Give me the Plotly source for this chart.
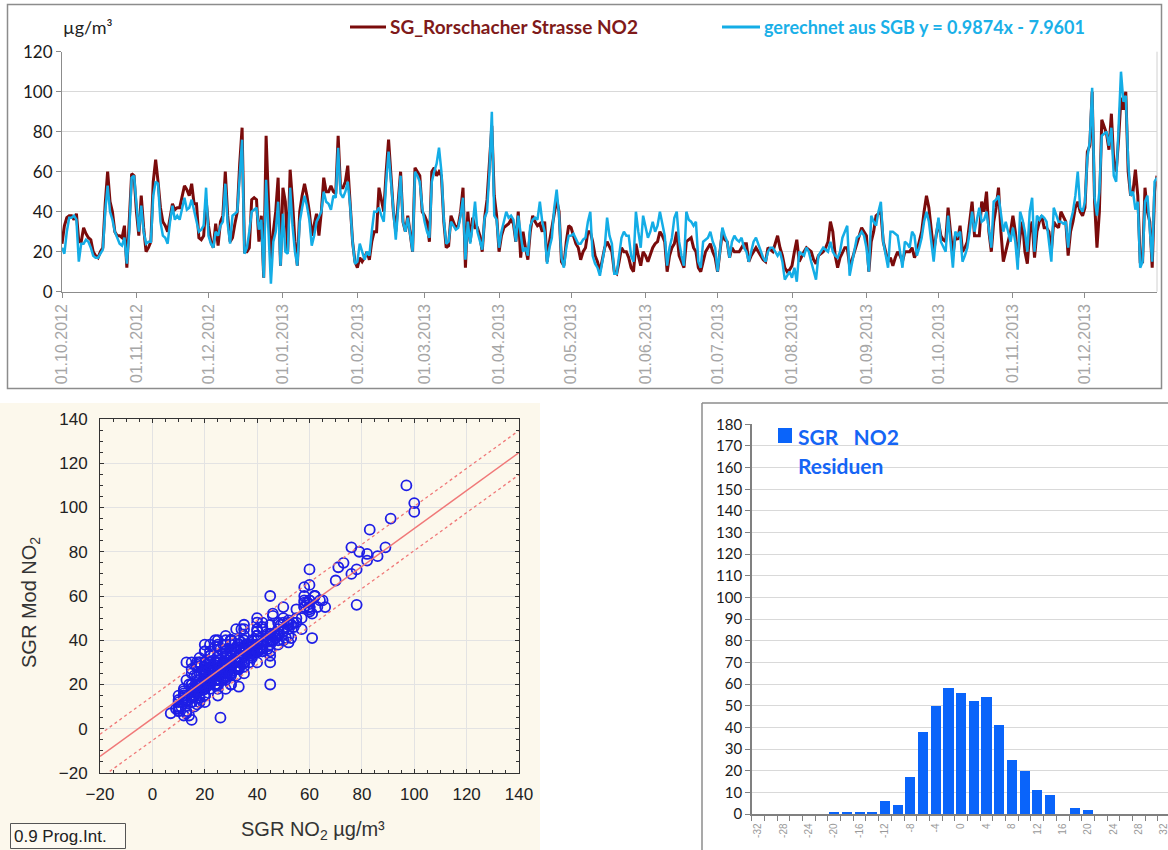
import plotly.graph_objects as go
import pandas as pd

# ---------------- data ----------------
start_date = "2012-10-01"
end_date = "2013-12-31"

rorschacher_no2 = [
    24, 33, 37, 38, 38, 36, 39, 25, 25, 32,
    29, 27, 26, 20, 18, 17, 20, 22, 44, 60,
    45, 40, 30, 28, 28, 27, 33, 12, 35, 59,
    58, 40, 28, 48, 32, 20, 22, 25, 55, 66,
    55, 42, 35, 33, 30, 38, 44, 41, 42, 42,
    47, 53, 51, 48, 54, 44, 44, 27, 26, 28,
    46, 33, 25, 22, 34, 23, 35, 38, 60, 38,
    25, 27, 34, 40, 64, 82, 20, 20, 22, 46,
    47, 46, 25, 38, 7, 78, 45, 15, 30, 40,
    57, 13, 52, 45, 20, 61, 45, 25, 13, 40,
    48, 54, 48, 40, 28, 33, 39, 28, 40, 57,
    50, 50, 53, 50, 49, 78, 52, 52, 55, 63,
    45, 25, 15, 12, 17, 15, 17, 20, 16, 25,
    30, 30, 52, 45, 40, 60, 76, 58, 40, 30,
    45, 60, 35, 30, 38, 28, 20, 62, 60, 58,
    40, 38, 35, 25, 60, 62, 58, 60, 58, 35,
    22, 23, 38, 35, 32, 33, 40, 52, 12, 40,
    25, 37, 32, 32, 28, 20, 37, 46, 62, 83,
    48, 38, 20, 28, 32, 33, 34, 36, 34, 25,
    40, 17, 30, 22, 16, 30, 38, 35, 33, 34,
    30, 35, 15, 25, 32, 40, 46, 40, 15, 13,
    25, 33, 32, 28, 24, 22, 16, 20, 22, 30,
    30, 25, 18, 15, 10, 16, 22, 25, 22, 20,
    10, 9, 15, 22, 20, 20, 17, 12, 10, 24,
    18, 13, 20, 18, 15, 18, 22, 24, 25, 30,
    28, 25, 10, 18, 22, 24, 30, 18, 15, 12,
    25, 26, 27, 22, 20, 12, 10, 15, 20, 22,
    24, 20, 17, 10, 20, 30, 26, 25, 17, 22,
    20, 20, 20, 22, 24, 24, 15, 18, 20, 22,
    20, 18, 16, 15, 22, 21, 20, 24, 28, 22,
    18, 12, 10, 11, 13, 20, 26, 15, 18, 20,
    22, 21, 20, 16, 14, 18, 19, 20, 22, 25,
    35, 30, 18, 12, 17, 20, 22, 22, 13, 16,
    20, 25, 28, 32, 30, 28, 10, 25, 30, 38,
    39, 40, 25, 20, 15, 17, 13, 17, 20, 18,
    15, 20, 20, 20, 22, 17, 20, 25, 30, 40,
    48, 42, 30, 20, 28, 35, 28, 26, 25, 42,
    30, 18, 28, 26, 33, 20, 22, 25, 35, 45,
    28, 28, 28, 45, 40, 50, 30, 20, 35, 42,
    52, 30, 15, 20, 25, 30, 38, 30, 17, 28,
    35, 20, 14, 30, 35, 17, 30, 35, 38, 32,
    32, 30, 20, 35, 33, 32, 40, 37, 35, 18,
    30, 35, 42, 45, 40, 38, 42, 70, 73, 100,
    45, 22, 40, 86, 82, 79, 71, 89, 65, 60,
    76, 97, 91, 100, 60, 48, 50, 61, 48, 15,
    15, 52, 40, 35, 12, 50, 58,
]

gerechnet_sgb = [
    22, 19, 30, 37, 37, 38, 36, 15, 24, 24,
    26, 25, 22, 18, 17, 17, 19, 21, 40, 53,
    40, 36, 30, 27, 24, 23, 27, 14, 30, 57,
    58, 44, 30, 43, 30, 24, 25, 25, 48, 55,
    54, 35, 28, 27, 24, 35, 43, 36, 38, 36,
    42, 47, 41, 42, 46, 41, 36, 30, 31, 33,
    52, 28, 24, 22, 30, 28, 33, 35, 54, 34,
    24, 38, 39, 40, 58, 76, 19, 22, 30, 40,
    41, 42, 31, 36, 7, 56, 30, 4, 25, 30,
    45, 13, 39, 20, 19, 52, 33, 20, 13, 35,
    42, 48, 43, 36, 23, 28, 35, 38, 40, 50,
    45, 44, 41, 48, 47, 72, 49, 47, 50, 55,
    43, 25, 14, 15, 24, 20, 16, 20, 18, 30,
    40, 40, 42, 38, 35, 55, 70, 55, 38, 26,
    42, 58, 35, 30, 37, 28, 20, 60, 58, 55,
    42, 35, 30, 27, 55, 60, 64, 72, 60, 36,
    24, 25, 35, 33, 31, 32, 38, 47, 16, 35,
    24, 33, 45, 30, 26, 21, 37, 40, 60, 90,
    38, 36, 22, 30, 35, 40, 37, 38, 36, 25,
    38, 28, 20, 22, 18, 33, 36, 37, 36, 45,
    35, 30, 14, 22, 27, 42, 51, 38, 17, 12,
    22, 28, 28, 29, 26, 24, 24, 26, 27, 35,
    40, 18, 14, 12, 8, 15, 22, 37, 28, 24,
    9, 9, 18, 27, 30, 28, 28, 18, 15, 40,
    30, 22, 38, 32, 27, 30, 35, 30, 33, 40,
    34, 28, 13, 22, 27, 37, 40, 25, 18, 13,
    40, 36, 35, 33, 35, 15, 12, 25, 26, 27,
    30, 25, 22, 10, 20, 32, 28, 25, 17, 25,
    28, 26, 25, 27, 22, 20, 15, 20, 25, 27,
    24, 20, 17, 15, 20, 22, 22, 20, 18, 20,
    15, 6, 8, 10, 7, 12, 5, 20, 19, 18,
    22, 20, 15, 10, 6, 18, 20, 22, 21, 20,
    25, 20, 18, 17, 20, 27, 30, 33, 8, 15,
    22, 27, 28, 30, 28, 22, 10, 38, 35, 33,
    40, 45, 25, 18, 12, 30, 30, 29, 28, 20,
    12, 25, 24, 22, 30, 28, 18, 22, 27, 35,
    40, 35, 25, 15, 28, 37, 25, 22, 20, 38,
    25, 12, 30, 28, 30, 15, 18, 22, 30, 40,
    30, 36, 42, 35, 36, 40, 30, 22, 45, 46,
    48, 38, 30, 35, 30, 25, 32, 25, 11, 40,
    36, 30, 20, 40, 47, 20, 38, 36, 38, 37,
    35, 25, 15, 42, 38, 35, 35, 34, 35, 22,
    35, 40, 48, 60, 42, 40, 45, 67, 75, 102,
    47, 38, 50, 78, 79, 80, 73, 82, 58, 55,
    82, 110, 95, 98, 65, 48, 50, 41, 45, 12,
    15, 45, 48, 30, 15, 55, 57,
]

month_ticks = ["2012-10-01", "2012-11-01", "2012-12-01", "2013-01-01", "2013-02-01",
               "2013-03-01", "2013-04-01", "2013-05-01", "2013-06-01", "2013-07-01",
               "2013-08-01", "2013-09-01", "2013-10-01", "2013-11-01", "2013-12-01"]
month_labels = ["01.10.2012", "01.11.2012", "01.12.2012", "01.01.2013", "01.02.2013",
                "01.03.2013", "01.04.2013", "01.05.2013", "01.06.2013", "01.07.2013",
                "01.08.2013", "01.09.2013", "01.10.2013", "01.11.2013", "01.12.2013"]

fit_intercept = 4.7
fit_slope = 0.858
pred_interval = 10.0
fit_x = [-20, 140]

# residual histogram
resid_bins = [-32, -30, -28, -26, -24, -22, -20, -18, -16, -14, -12, -10, -8, -6, -4, -2,
              0, 2, 4, 6, 8, 10, 12, 14, 16, 18, 20, 22, 24, 26, 28, 30, 32]
resid_counts = [0, 0, 0, 0, 0, 0, 1, 1, 1, 1, 6, 4, 17, 38, 50, 58,
                56, 52, 54, 41, 25, 20, 11, 9, 0, 3, 2, 0, 0, 0, 0, 0, 0]
resid_tick_vals = [-32, -28, -24, -20, -16, -12, -8, -4, 0, 4, 8, 12, 16, 20, 24, 28, 32]
resid_tick_text = ["-32", "-28", "-24", "-20", "-16", "-12", "-8", "-4", "0",
                   "4", "8", "12", "16", "20", "24", "28", "32"]

# ---------------- geometry helpers ----------------
W, H = 1168, 850
def px(x):
    return x / W
def py(y):
    return 1 - y / H

dates = pd.date_range(start_date, end_date, freq="D")

RED = "#7A0B0B"
BLUE = "#14ADE6"
HBLUE = "#0A64FA"

fig = go.Figure()

fig.add_trace(go.Scatter(x=dates, y=rorschacher_no2, mode="lines",
                         line=dict(color=RED, width=3), xaxis="x", yaxis="y",
                         showlegend=False))
fig.add_trace(go.Scatter(x=dates, y=gerechnet_sgb, mode="lines",
                         line=dict(color=BLUE, width=2.5), xaxis="x", yaxis="y",
                         showlegend=False))

fit_y = [fit_intercept + fit_slope * v for v in fit_x]
fit_up = [v + pred_interval for v in fit_y]
fit_lo = [v - pred_interval for v in fit_y]
fig.add_trace(go.Scatter(x=rorschacher_no2, y=gerechnet_sgb, mode="markers",
                         marker=dict(symbol="circle-open", size=10, color="#1E1EE6",
                                     line=dict(width=1.8, color="#1E1EE6")),
                         xaxis="x2", yaxis="y2", showlegend=False, cliponaxis=True))
fig.add_trace(go.Scatter(x=fit_x, y=fit_y, mode="lines",
                         line=dict(color="#F07878", width=1.5),
                         xaxis="x2", yaxis="y2", showlegend=False))
fig.add_trace(go.Scatter(x=fit_x, y=fit_up, mode="lines",
                         line=dict(color="#F07878", width=1.3, dash="dot"),
                         xaxis="x2", yaxis="y2", showlegend=False))
fig.add_trace(go.Scatter(x=fit_x, y=fit_lo, mode="lines",
                         line=dict(color="#F07878", width=1.3, dash="dot"),
                         xaxis="x2", yaxis="y2", showlegend=False))

fig.add_trace(go.Bar(x=resid_bins, y=resid_counts, width=1.6,
                     marker=dict(color=HBLUE, line=dict(width=0)),
                     xaxis="x3", yaxis="y3", showlegend=False))

shapes = []
shapes.append(dict(type="rect", xref="paper", yref="paper",
                   x0=px(7.5), x1=px(1161.5), y0=py(388.5), y1=py(4.5),
                   line=dict(color="#8C8C8C", width=1.5), layer="below"))
shapes.append(dict(type="line", xref="paper", yref="paper",
                   x0=px(1157), x1=px(1157), y0=py(291.7), y1=py(51.7),
                   line=dict(color="#D0D0D0", width=1)))
shapes.append(dict(type="line", xref="paper", yref="paper",
                   x0=px(350), x1=px(386), y0=py(27), y1=py(27),
                   line=dict(color=RED, width=3)))
shapes.append(dict(type="line", xref="paper", yref="paper",
                   x0=px(722), x1=px(760), y0=py(27), y1=py(27),
                   line=dict(color=BLUE, width=3)))
shapes.append(dict(type="rect", xref="paper", yref="paper",
                   x0=0, x1=px(540), y0=0, y1=py(403),
                   fillcolor="#FCF8EC", line=dict(width=0), layer="below"))
shapes.append(dict(type="rect", xref="paper", yref="paper",
                   x0=px(10.5), x1=px(125.5), y0=py(848.5), y1=py(823.5),
                   fillcolor="#FDFAF2", line=dict(color="#555555", width=1), layer="below"))
shapes.append(dict(type="line", xref="paper", yref="paper",
                   x0=px(702), x1=px(702), y0=0, y1=py(403),
                   line=dict(color="#8C8C8C", width=1.5)))
shapes.append(dict(type="line", xref="paper", yref="paper",
                   x0=px(702), x1=1, y0=py(403), y1=py(403),
                   line=dict(color="#8C8C8C", width=1.5)))
shapes.append(dict(type="rect", xref="paper", yref="paper",
                   x0=px(778), x1=px(792), y0=py(443), y1=py(428),
                   fillcolor=HBLUE, line=dict(width=0)))

annotations = [
    dict(text="µg/m³", x=px(61), y=py(27), xref="paper", yref="paper",
         xanchor="left", yanchor="middle", showarrow=False,
         font=dict(family="Lato", size=18, color="#222222")),
    dict(text="SG_Rorschacher Strasse NO2", x=px(388), y=py(27), xref="paper", yref="paper",
         xanchor="left", yanchor="middle", showarrow=False,
         font=dict(family="Lato", size=19, color="#7F1A1A", weight="bold")),
    dict(text="gerechnet aus SGB y = 0.9874x - 7.9601", x=px(762), y=py(27),
         xref="paper", yref="paper", xanchor="left", yanchor="middle", showarrow=False,
         font=dict(family="Lato", size=18, color="#1AB0E8", weight="bold")),
    dict(text="SGR NO<sub>2</sub> µg/m³", x=px(313), y=py(830), xref="paper", yref="paper",
         xanchor="center", yanchor="middle", showarrow=False,
         font=dict(family="Liberation Sans", size=20, color="#333333")),
    dict(text="SGR Mod NO<sub>2</sub>", x=px(30), y=py(603), xref="paper", yref="paper",
         xanchor="center", yanchor="middle", showarrow=False, textangle=-90,
         font=dict(family="Liberation Sans", size=20, color="#333333")),
    dict(text="0.9 Prog.Int.", x=px(13), y=py(836), xref="paper", yref="paper",
         xanchor="left", yanchor="middle", showarrow=False, borderpad=0,
         font=dict(family="Liberation Sans", size=17, color="#222222")),
    dict(text="SGR\u00a0\u00a0\u00a0NO2", x=px(796), y=py(436), xref="paper", yref="paper",
         xanchor="left", yanchor="middle", showarrow=False,
         font=dict(family="Lato", size=21, color="#1565F5", weight="bold")),
    dict(text="Residuen", x=px(796), y=py(465), xref="paper", yref="paper",
         xanchor="left", yanchor="middle", showarrow=False,
         font=dict(family="Lato", size=21, color="#1565F5", weight="bold")),
]

fig.update_layout(
    width=W, height=H,
    margin=dict(l=0, r=0, t=0, b=0, autoexpand=False),
    paper_bgcolor="white", plot_bgcolor="white",
    shapes=shapes, annotations=annotations,
    bargap=0, dragmode=False, hovermode=False,
    xaxis=dict(domain=[px(62), px(1157)], anchor="y", type="date", automargin=False,
               range=[start_date, end_date], fixedrange=True,
               tickmode="array", tickvals=month_ticks, ticktext=month_labels,
               tickangle=-90, tickfont=dict(family="Liberation Sans", size=16, color="#A6A6A6"),
               ticks="outside", ticklen=5, tickcolor="#8C8C8C",
               showline=True, linecolor="#8C8C8C", linewidth=1, showgrid=False,
               zeroline=False),
    yaxis=dict(domain=[py(291.7), py(51.7)], anchor="x", range=[0, 120], fixedrange=True,
               automargin=False, tickmode="linear", tick0=0, dtick=20,
               tickfont=dict(family="Lato", size=17, color="#1A1A1A"),
               ticks="outside", ticklen=5, tickcolor="#8C8C8C",
               showline=True, linecolor="#8C8C8C", linewidth=1,
               showgrid=True, gridcolor="#D9D9D9", gridwidth=1, zeroline=False),
    xaxis2=dict(domain=[px(100), px(519)], anchor="y2", range=[-20, 140], fixedrange=True,
                automargin=False, tickmode="linear", tick0=-20, dtick=20,
                tickfont=dict(family="Liberation Sans", size=17, color="#222222"),
                ticks="inside", ticklen=4, tickcolor="#333333",
                minor=dict(dtick=5, tick0=0, ticks="inside", ticklen=3, tickcolor="#333333"),
                ticklabelstandoff=6,
                showline=True, linecolor="#333333", linewidth=1, mirror="allticks",
                showgrid=True, gridcolor="#E3E3E3", gridwidth=1, zeroline=False),
    yaxis2=dict(domain=[py(773), py(419)], anchor="x2", range=[-20, 140], fixedrange=True,
                automargin=False, tickmode="linear", tick0=-20, dtick=20,
                tickfont=dict(family="Liberation Sans", size=17, color="#222222"),
                ticks="inside", ticklen=4, tickcolor="#333333",
                minor=dict(dtick=5, tick0=0, ticks="inside", ticklen=3, tickcolor="#333333"),
                ticklabelstandoff=8,
                showline=True, linecolor="#333333", linewidth=1, mirror="allticks",
                showgrid=True, gridcolor="#E3E3E3", gridwidth=1, zeroline=False),
    xaxis3=dict(domain=[px(751.7), 1.0], anchor="y3", range=[-33, 32.6], fixedrange=True,
                automargin=False, tickmode="array", tickvals=resid_tick_vals,
                ticktext=resid_tick_text, ticklabeloverflow="allow",
                tickangle=-90, tickfont=dict(family="Liberation Sans", size=10, color="#999999"),
                ticks="", ticklabelstandoff=4,
                minor=dict(tickmode="linear", tick0=-33, dtick=2, ticks="outside",
                           ticklen=5, tickcolor="#808080", showgrid=False),
                showline=True, linecolor="#808080", linewidth=1.5, showgrid=False,
                zeroline=False),
    yaxis3=dict(domain=[py(814), py(424.3)], anchor="x3", range=[0, 180], fixedrange=True,
                automargin=False, tickmode="linear", tick0=0, dtick=10,
                tickfont=dict(family="Lato", size=15, color="#1A1A1A"),
                ticks="outside", ticklen=5, tickcolor="#808080",
                showline=True, linecolor="#808080", linewidth=1.5,
                showgrid=True, gridcolor="#D9D9D9", gridwidth=1, zeroline=False),
)

fig.write_html("out.html", config={"staticPlot": True, "displayModeBar": False})
